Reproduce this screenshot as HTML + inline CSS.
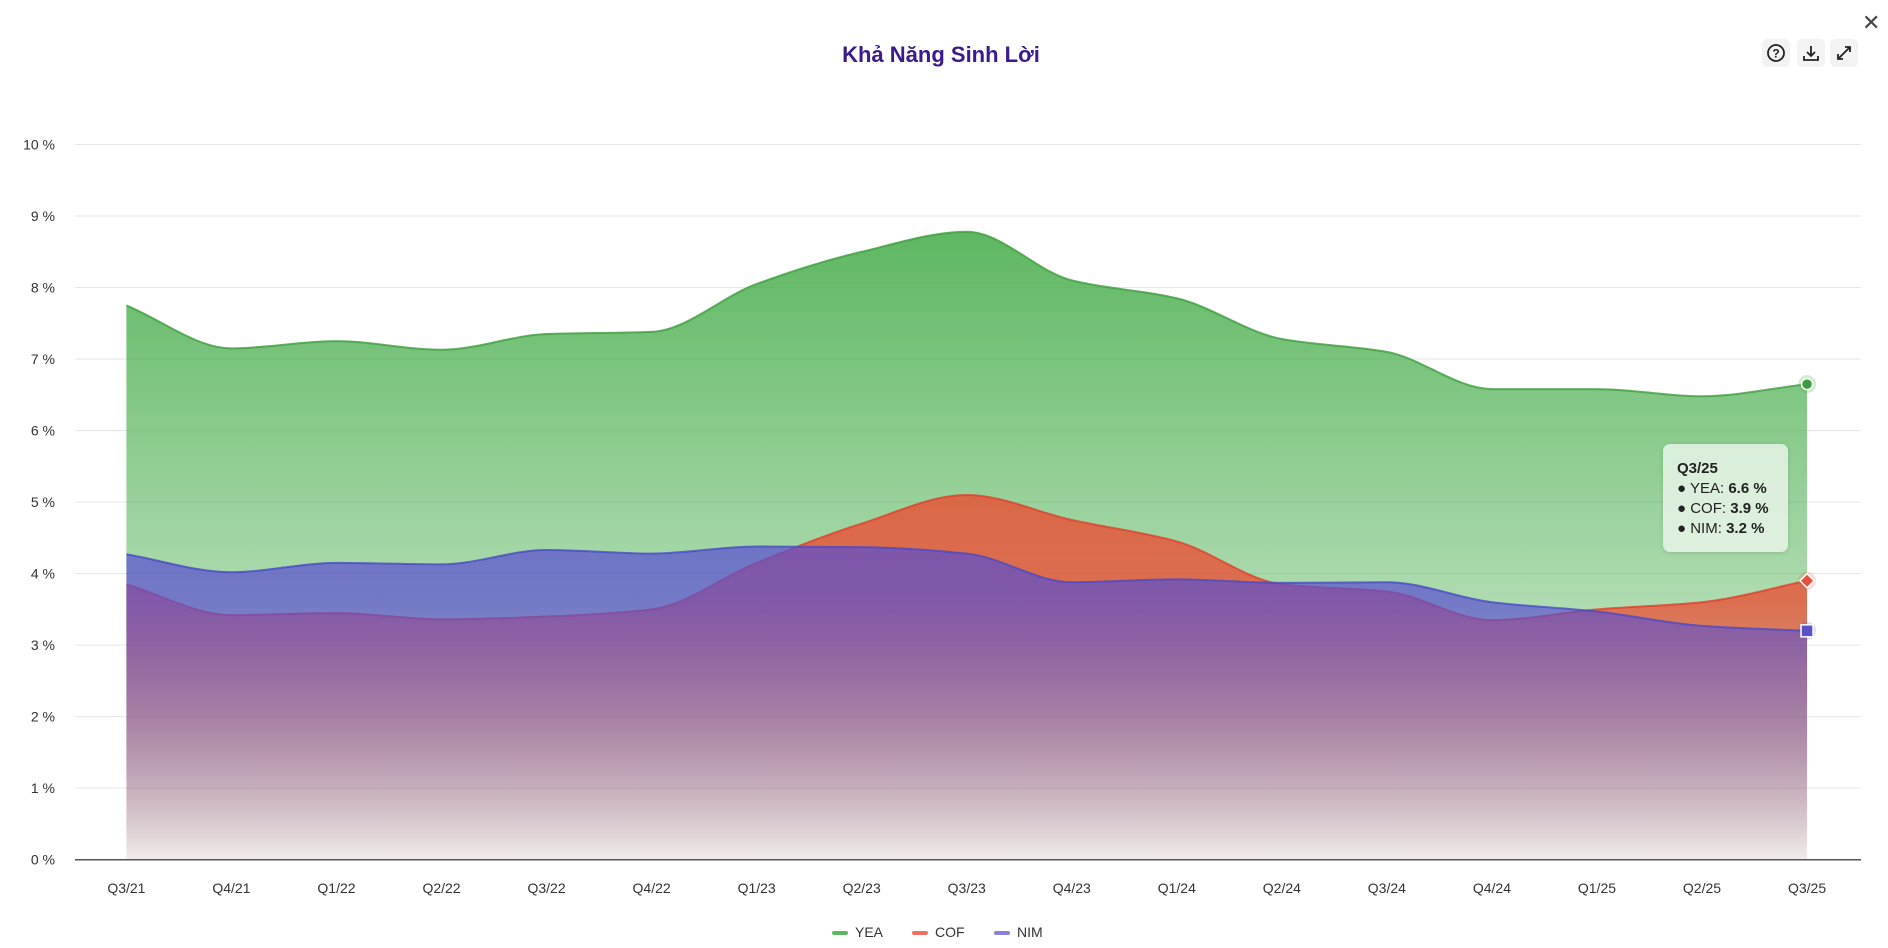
<!DOCTYPE html>
<html><head><meta charset="utf-8">
<style>
html,body{margin:0;padding:0;background:#fff;width:1888px;height:948px;overflow:hidden;font-family:"Liberation Sans",sans-serif}
#wrap{position:relative;width:1888px;height:948px}
.btn{position:absolute;top:39px;width:28px;height:28px;background:#f3f3f3;border-radius:5px;display:flex;align-items:center;justify-content:center}
#tip{position:absolute;left:1663px;top:444px;width:125px;height:108px;background:rgba(232,244,232,0.85);border-radius:7px;box-shadow:0 1px 4px rgba(0,0,0,0.12);font-size:15px;color:#222;box-sizing:border-box;padding:15px 0 0 14px;line-height:20px}
</style></head><body>
<div id="wrap">
<div style="position:absolute;left:0;width:1882px;top:42px;text-align:center;font-size:22px;font-weight:bold;color:#3a1a8c">Khả Năng Sinh Lời</div>
<div style="position:absolute;left:1862px;top:10px;font-size:22px;color:#444">✕</div>
<div class="btn" style="left:1762px"><svg width="20" height="20"><circle cx="10" cy="10" r="8" fill="none" stroke="#222" stroke-width="1.8"/><text x="10" y="14.5" font-size="12" font-weight="bold" text-anchor="middle" fill="#222">?</text></svg></div>
<div class="btn" style="left:1797px"><svg width="20" height="20" fill="none" stroke="#222" stroke-width="1.8"><path d="M10 3v10M6 9l4 4 4-4M3 13v4h14v-4"/></svg></div>
<div class="btn" style="left:1830px"><svg width="20" height="20" fill="none" stroke="#222" stroke-width="1.8"><path d="M4 16l12-12M11 4h5v5M4 11v5h5"/></svg></div>
<svg id="chart" width="1888" height="948" style="position:absolute;left:0;top:0"></svg>
<div id="tip"><b>Q3/25</b><br>● YEA: <b>6.6 %</b><br>● COF: <b>3.9 %</b><br>● NIM: <b>3.2 %</b></div>
</div>
<script>
const categories=["Q3/21","Q4/21","Q1/22","Q2/22","Q3/22","Q4/22","Q1/23","Q2/23","Q3/23","Q4/23","Q1/24","Q2/24","Q3/24","Q4/24","Q1/25","Q2/25","Q3/25"];
const yea=[7.75,7.15,7.25,7.13,7.35,7.38,8.05,8.5,8.78,8.1,7.85,7.28,7.1,6.58,6.58,6.48,6.65];
const cof=[3.85,3.42,3.45,3.36,3.40,3.50,4.15,4.7,5.1,4.75,4.45,3.85,3.75,3.35,3.5,3.6,3.9];
const nim=[4.27,4.02,4.15,4.13,4.33,4.28,4.38,4.37,4.28,3.88,3.92,3.87,3.88,3.6,3.47,3.27,3.2];
const yTicks=[0,1,2,3,4,5,6,7,8,9,10];
const NS="http://www.w3.org/2000/svg";
const svg=document.getElementById('chart');
const X=i=>126.4+i*105.04;
const Y=v=>859.7-v*71.52;
function mk(t,a,p){const e=document.createElementNS(NS,t);for(const k in a)e.setAttribute(k,a[k]);(p||svg).appendChild(e);return e;}
const defs=mk('defs',{});
function grad(id,c,o1,o2,o3){const g=mk('linearGradient',{id:id,x1:0,y1:Y(9),x2:0,y2:Y(0),gradientUnits:'userSpaceOnUse'},defs);mk('stop',{offset:0,'stop-color':c,'stop-opacity':o1},g);mk('stop',{offset:0.6,'stop-color':c,'stop-opacity':o2},g);mk('stop',{offset:1,'stop-color':c,'stop-opacity':o3},g);}
grad('gY','#4caf50',0.92,0.45,0.05);grad('gC','#ec4a30',0.85,0.75,0.05);grad('gN','#5a4fd0',0.85,0.7,0.03);
yTicks.forEach(t=>{
  const l=mk('line',{x1:75,x2:1861,y1:Y(t),y2:Y(t),stroke:t===0?'#555':'#e6e6e6','stroke-width':t===0?1.5:1});
  
  const tx=mk('text',{x:55,y:Y(t)+5,'text-anchor':'end','font-size':14,fill:'#333'});tx.textContent=t+' %';
  
});
categories.forEach((c,i)=>{
  const tx=mk('text',{x:X(i),y:893,'text-anchor':'middle','font-size':14,fill:'#333'});tx.textContent=c;
  
});
function mono(vals){
  const n=vals.length,xs=vals.map((_,i)=>X(i)),ys=vals.map(Y);
  const d=[],m=[];for(let i=0;i<n-1;i++)d.push((ys[i+1]-ys[i])/(xs[i+1]-xs[i]));
  m[0]=d[0];m[n-1]=d[n-2];
  for(let i=1;i<n-1;i++){m[i]=(d[i-1]*d[i]<=0)?0:2/(1/d[i-1]+1/d[i]);}
  let p='M'+xs[0]+','+ys[0];
  for(let i=0;i<n-1;i++){const h=(xs[i+1]-xs[i])/3;p+=' C'+(xs[i]+h)+','+(ys[i]+m[i]*h)+' '+(xs[i+1]-h)+','+(ys[i+1]-m[i+1]*h)+' '+xs[i+1]+','+ys[i+1];}
  return p;
}
function series(vals,g,stroke,name){
  const line=mono(vals);
  const a=mk('path',{d:line+' L'+X(vals.length-1)+','+Y(0)+' L'+X(0)+','+Y(0)+' Z',fill:'url(#'+g+')'});
  
  const l=mk('path',{d:line,fill:'none',stroke:stroke,'stroke-width':2,'stroke-opacity':0.8});
  
}
series(yea,'gY','#3e9c3e','yea');
series(cof,'gC','#e0402c','cof');
series(nim,'gN','#4a4ac8','nim');
const li=yea.length-1;
mk('circle',{cx:X(li),cy:Y(yea[li]),r:9,fill:'#4caf50','fill-opacity':0.25});
let p=mk('circle',{cx:X(li),cy:Y(yea[li]),r:5.5,fill:'#3e9c3e',stroke:'#fff','stroke-width':1.5});

mk('circle',{cx:X(li),cy:Y(cof[li]),r:9,fill:'#e8503a','fill-opacity':0.2});
p=mk('rect',{x:X(li)-5,y:Y(cof[li])-5,width:10,height:10,fill:'#e8503a',stroke:'#fff','stroke-width':1.5,transform:'rotate(45 '+X(li)+' '+Y(cof[li])+')'});

mk('circle',{cx:X(li),cy:Y(nim[li]),r:9,fill:'#6a4ec8','fill-opacity':0.2});
p=mk('rect',{x:X(li)-6,y:Y(nim[li])-6,width:12,height:12,fill:'#5a50c8',stroke:'#fff','stroke-width':1.5});

const leg=[['YEA','#5cb85c',832],['COF','#f07060',912],['NIM','#8a80e0',994]];
leg.forEach(e=>{
  const g=mk('g',{});
  mk('rect',{x:e[2],y:931,width:16,height:4,rx:2,fill:e[1]},g);
  const t=mk('text',{x:e[2]+23,y:937,'font-size':14,fill:'#333'},g);t.textContent=e[0];
});
</script>
</body></html>
